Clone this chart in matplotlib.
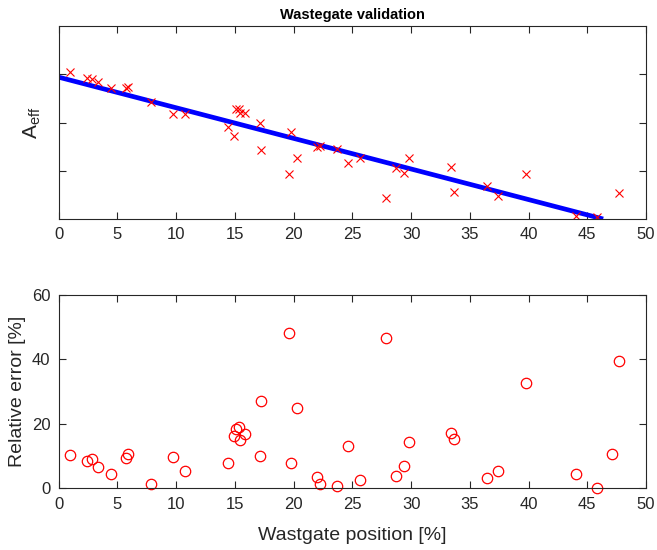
import matplotlib
matplotlib.use("Agg")
import matplotlib.pyplot as plt


# ============================================
# Measured data
# ============================================

# wastegate position [%]
wg_position = [1.0, 2.37, 2.83, 3.32, 4.45, 5.77, 5.92, 7.83, 9.75, 10.77,
               14.43, 14.96, 15.09, 15.32, 15.47, 15.88, 17.17, 17.26, 19.64, 19.81,
               20.26, 22.03, 22.26, 23.73, 24.66, 25.69, 27.83, 28.75, 29.39, 29.83,
               33.40, 33.63, 36.43, 37.43, 39.75, 44.01, 45.86, 47.09, 47.66]

# effective area (scaled)
a_eff = [3.04, 2.92, 2.90, 2.84, 2.72, 2.72, 2.73, 2.42, 2.17, 2.17,
         1.90, 1.73, 2.27, 2.27, 2.19, 2.20, 2.00, 1.42, 0.93, 1.81,
         1.26, 1.49, 1.51, 1.45, 1.17, 1.26, 0.44, 1.05, 0.96, 1.27,
         1.08, 0.57, 0.68, 0.48, 0.93, 0.06, 0.035, -0.15, 0.54]

# relative error of the fit [%]
rel_error = [10.4, 8.4, 9.1, 6.6, 4.3, 9.4, 10.6, 1.4, 9.6, 5.4,
             7.9, 16.1, 18.4, 19.1, 14.9, 16.9, 10.1, 27.0, 48.1, 7.9,
             24.8, 3.4, 1.2, 0.7, 13.1, 2.6, 46.6, 3.8, 6.9, 14.4,
             17.1, 15.4, 3.2, 5.5, 32.6, 4.4, 0.1, 10.6, 39.6]

# linear fit end points
fit_position = [0.0, 46.35]
fit_a_eff = [2.94, 0.0]


# ============================================
# Style
# ============================================

plt.rcParams["font.family"] = ["Liberation Sans", "DejaVu Sans"]
plt.rcParams["mathtext.fontset"] = "custom"
plt.rcParams["mathtext.rm"] = "Liberation Sans"
plt.rcParams["mathtext.it"] = "Liberation Sans:italic"

axis_color = "#262626"


def style_axes(ax):
    """
    Box with inward ticks on all four sides.
    """

    for spine in ax.spines.values():
        spine.set_color(axis_color)
        spine.set_linewidth(0.8)

    ax.tick_params(direction="in", top=True, right=True, length=5,
                   width=0.8, colors=axis_color, labelsize=12,
                   labelcolor=axis_color, pad=6)


# ============================================
# Figure
# ============================================

fig = plt.figure(figsize=(6.57, 5.5), dpi=100)

ax1 = fig.add_axes([0.0893, 0.6018, 0.894, 0.3509])
ax2 = fig.add_axes([0.0893, 0.1122, 0.894, 0.3514])

# top: effective area and fit
ax1.plot(fit_position, fit_a_eff, color="#0000ff", linewidth=3.4,
         solid_capstyle="butt")
ax1.plot(wg_position, a_eff, linestyle="none", marker="x", color="#ff0000",
         markersize=6, markeredgewidth=0.8)

ax1.set_xlim(0, 50)
ax1.set_ylim(0, 4)
ax1.set_xticks(range(0, 51, 5))
ax1.set_yticks([1, 2, 3])
ax1.set_yticklabels([])
ax1.set_ylabel(r"A$_{\mathrm{eff}}$", fontsize=15, color=axis_color,
               labelpad=5)
ax1.set_title("Wastegate validation", fontsize=10.5, fontweight="bold",
              pad=5)
style_axes(ax1)

# bottom: relative error
ax2.plot(wg_position, rel_error, linestyle="none", marker="o",
         markerfacecolor="none", markeredgecolor="#ff0000",
         markersize=7.5, markeredgewidth=0.9, clip_on=False)

ax2.set_xlim(0, 50)
ax2.set_ylim(0, 60)
ax2.set_xticks(range(0, 51, 5))
ax2.set_yticks([0, 20, 40, 60])
ax2.set_xlabel("Wastgate position [%]", fontsize=14, color=axis_color,
               labelpad=11)
ax2.set_ylabel("Relative error [%]", fontsize=14, color=axis_color,
               labelpad=4)
style_axes(ax2)

plt.savefig("out.png", dpi=100)
plt.close()
